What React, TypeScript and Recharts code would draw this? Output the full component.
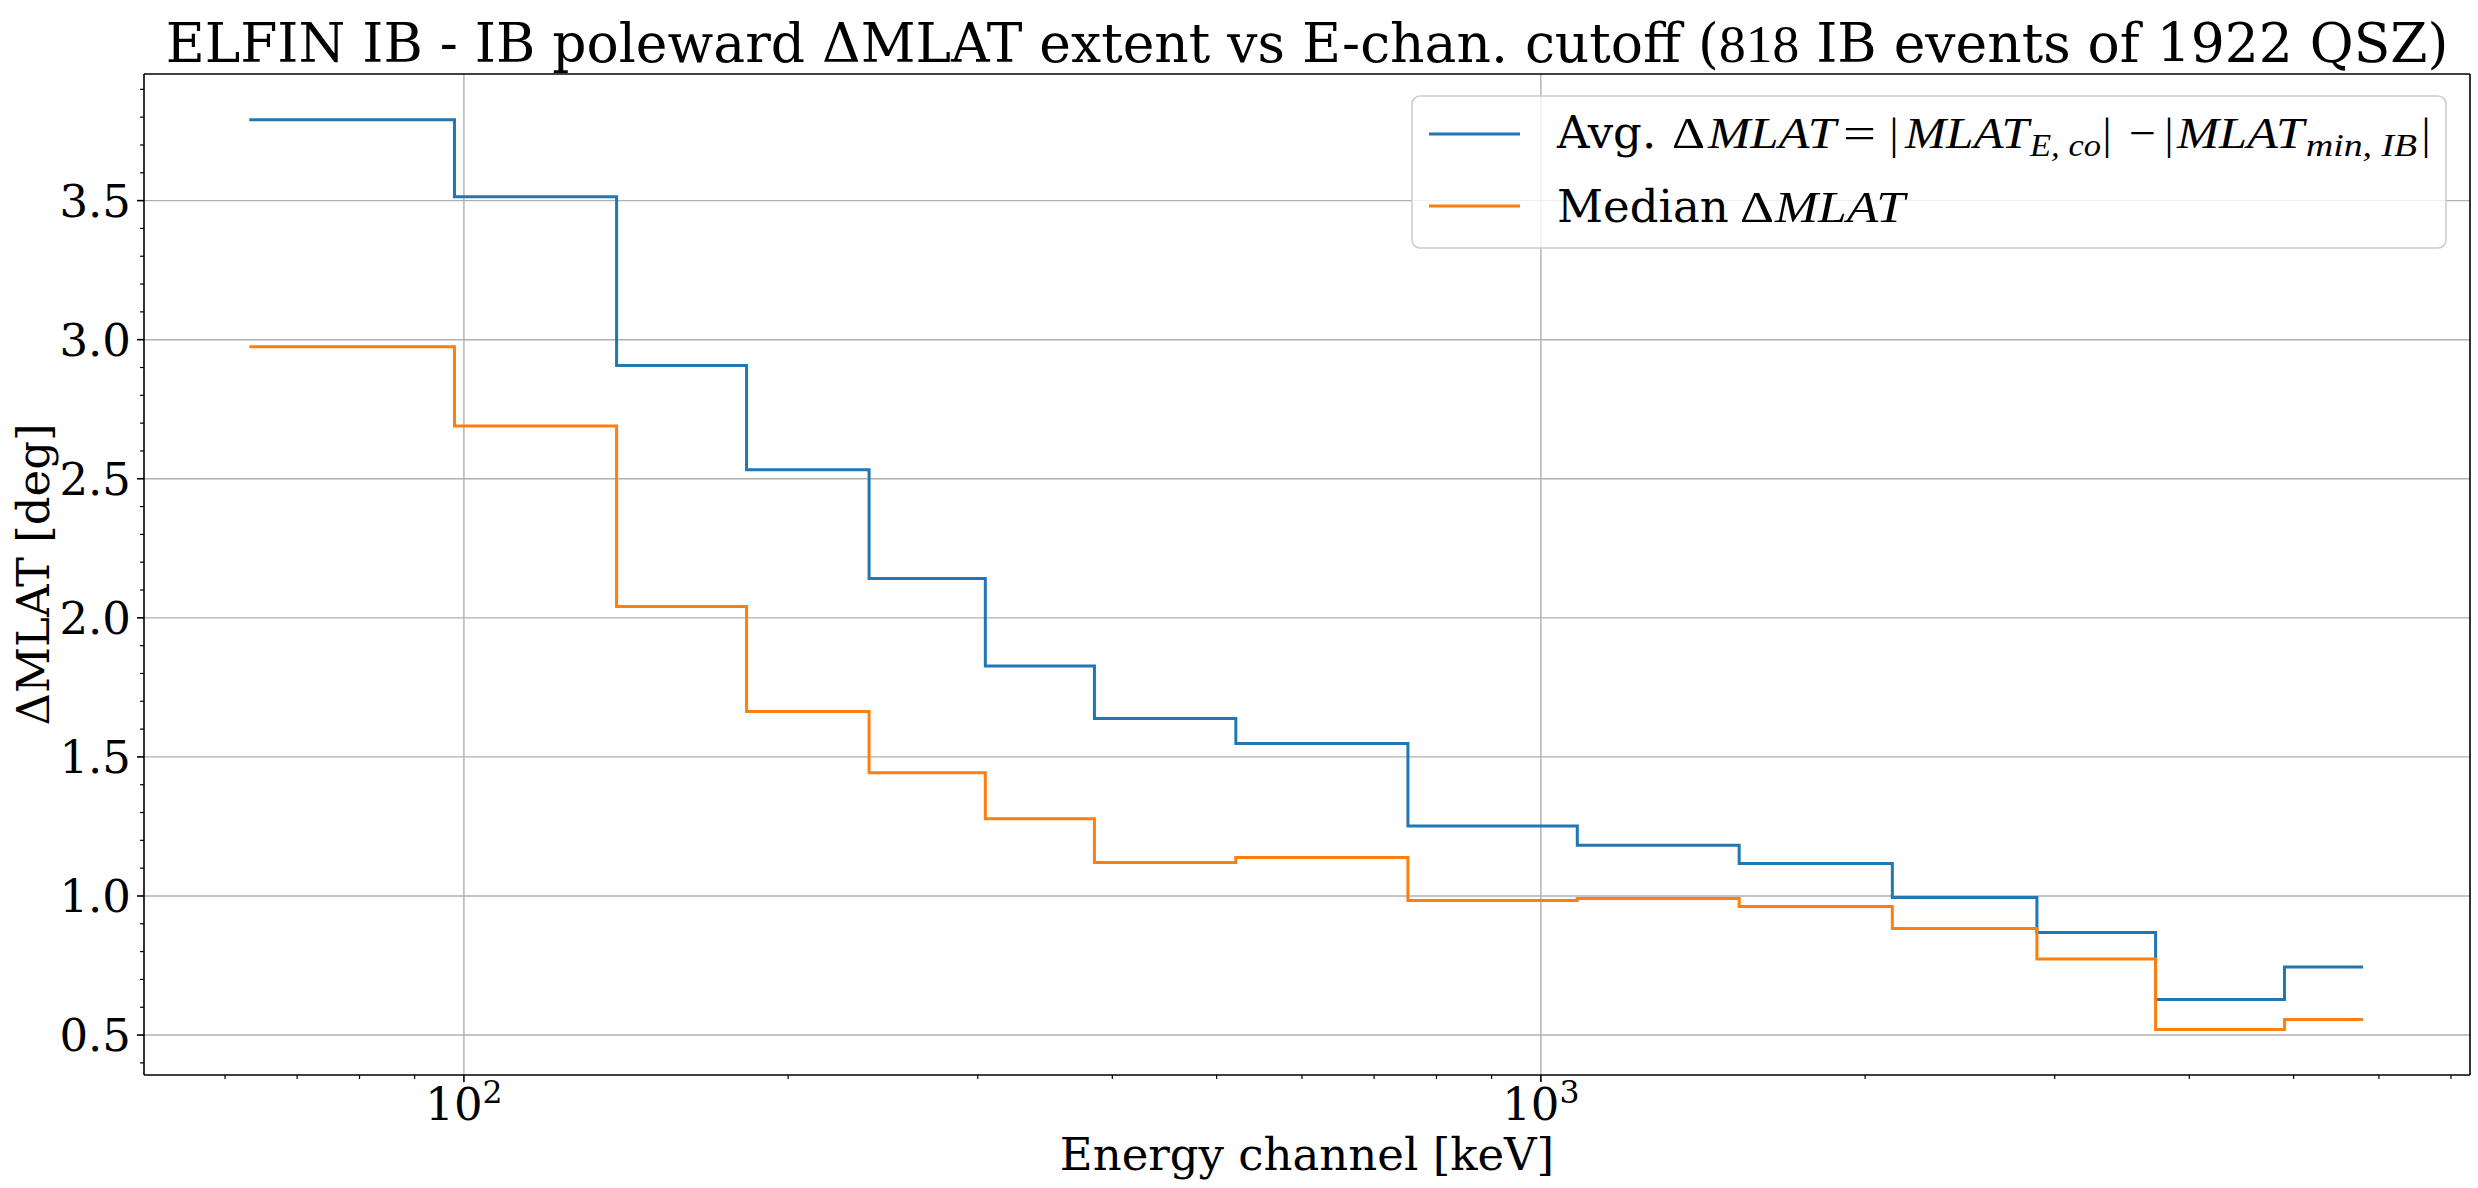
import { LineChart, Line, XAxis, YAxis, ReferenceLine } from "recharts";

// ELFIN energy channel edges [keV] and step levels
const energyEdges = [63.2, 98.0, 138.6, 183.0, 237.8, 304.9, 385.0, 520.9, 752.6, 1081, 1528, 2120, 2888, 3722, 4903, 5800];
const avgDmlat = [3.791, 3.514, 2.907, 2.532, 2.141, 1.827, 1.638, 1.548, 1.252, 1.182, 1.117, 0.995, 0.869, 0.628, 0.745];
const medianDmlat = [2.975, 2.69, 2.041, 1.663, 1.443, 1.278, 1.12, 1.138, 0.984, 0.991, 0.962, 0.883, 0.773, 0.52, 0.556];

const xMajorTicks = [100, 1000];
const xMajorExponents = ["2", "3"];
const xMinorTicks = [60, 70, 80, 90, 200, 300, 400, 500, 600, 700, 800, 900, 2000, 3000, 4000, 5000, 6000, 7000];
const yMajorTicks = [0.5, 1.0, 1.5, 2.0, 2.5, 3.0, 3.5];
const yMinorTicks = [
  0.4, 0.6, 0.7, 0.8, 0.9, 1.1, 1.2, 1.3, 1.4, 1.6, 1.7, 1.8, 1.9, 2.1, 2.2, 2.3, 2.4,
  2.6, 2.7, 2.8, 2.9, 3.1, 3.2, 3.3, 3.4, 3.6, 3.7, 3.8, 3.9,
];

const xDomain = [50.46, 7290];
const yDomain = [0.3564, 3.9552];

const BLUE = "#1f77b4";
const ORANGE = "#ff7f0e";
const GRID = "#b0b0b0";
const SERIF = "DejaVu Serif";
const MATH = "Liberation Serif";
const FS = 45;
const SUB = 31.5;
const LW = 3;

// last value repeated so the final step gets its width
const data = energyEdges.map((e, i) => ({
  e,
  avg: avgDmlat[Math.min(i, avgDmlat.length - 1)],
  med: medianDmlat[Math.min(i, medianDmlat.length - 1)],
}));

const XTick = (props: any) => {
  const { x, y, payload } = props;
  const idx = xMajorTicks.indexOf(payload.value);
  const major = idx >= 0;
  return (
    <g>
      <line x1={x} x2={x} y1={y} y2={y + (major ? 7 : 4)} stroke="#000" strokeWidth={major ? 1.6 : 1.2} />
      {major && (
        <text x={x} y={y + 45} textAnchor="middle" fontSize={FS} fontFamily={SERIF} fill="#000">
          10
          <tspan dy={-17} fontSize={SUB}>
            {xMajorExponents[idx]}
          </tspan>
        </text>
      )}
    </g>
  );
};

const YTick = (props: any) => {
  const { x, y, payload } = props;
  const major = yMajorTicks.includes(payload.value);
  return (
    <g>
      <line x1={x - (major ? 7 : 4)} x2={x} y1={y} y2={y} stroke="#000" strokeWidth={major ? 1.6 : 1.2} />
      {major && (
        <text x={x - 13} y={y + 16.3} textAnchor="end" fontSize={FS} fontFamily={SERIF} fill="#000">
          {payload.value.toFixed(1)}
        </text>
      )}
    </g>
  );
};

// a piece of math-style legend text, stretched to the width it has in the figure
const M = ({ x, y, w, size = FS, italic = false, anchor = "start", children }: any) => (
  <text
    x={x}
    y={y}
    textLength={w}
    lengthAdjust={w ? "spacingAndGlyphs" : undefined}
    textAnchor={anchor}
    fontSize={size}
    fontFamily={MATH}
    fontStyle={italic ? "italic" : "normal"}
    fill="#000"
  >
    {children}
  </text>
);

export default function App() {
  return (
    <div style={{ position: "absolute", left: 0, top: 0, width: 2478, height: 1188, background: "#fff" }}>
      <LineChart width={2478} height={1188} data={data} margin={{ top: 74, right: 8, bottom: 0, left: 0 }}>
        <XAxis
          dataKey="e"
          type="number"
          scale="log"
          domain={xDomain}
          allowDataOverflow
          ticks={[...xMajorTicks, ...xMinorTicks]}
          interval={0}
          tick={XTick}
          tickLine={false}
          tickSize={0}
          tickMargin={0}
          height={113}
          axisLine={{ stroke: "#000", strokeWidth: 1.6 }}
        />
        <YAxis
          type="number"
          domain={yDomain}
          allowDataOverflow
          ticks={[...yMajorTicks, ...yMinorTicks]}
          interval={0}
          tick={YTick}
          tickLine={false}
          tickSize={0}
          tickMargin={0}
          width={144}
          axisLine={{ stroke: "#000", strokeWidth: 1.6 }}
        />
        {yMajorTicks.map((v) => (
          <ReferenceLine key={`gy-${v}`} y={v} stroke={GRID} strokeWidth={1.4} />
        ))}
        {xMajorTicks.map((v) => (
          <ReferenceLine key={`gx-${v}`} x={v} stroke={GRID} strokeWidth={1.4} />
        ))}
        {/* top and right spines */}
        <ReferenceLine y={yDomain[1]} stroke="#000" strokeWidth={1.6} />
        <ReferenceLine x={xDomain[1]} stroke="#000" strokeWidth={1.6} />
        <Line type="stepAfter" dataKey="avg" stroke={BLUE} strokeWidth={LW} dot={false} isAnimationActive={false} />
        <Line type="stepAfter" dataKey="med" stroke={ORANGE} strokeWidth={LW} dot={false} isAnimationActive={false} />
      </LineChart>

      <svg
        width={2478}
        height={1188}
        style={{ position: "absolute", left: 0, top: 0, pointerEvents: "none" }}
      >
        <text x={1307} y={62} textAnchor="middle" fontSize={53.5} fontFamily={SERIF} fill="#000">
          ELFIN IB - IB poleward ΔMLAT extent vs E-chan. cutoff (<tspan fontFamily={MATH}>818</tspan> IB events of
          1922 QSZ)
        </text>
        <text x={1307} y={1170} textAnchor="middle" fontSize={FS} fontFamily={SERIF} fill="#000">
          Energy channel [keV]
        </text>
        <text
          transform="translate(48.5,574.5) rotate(-90)"
          textAnchor="middle"
          fontSize={FS}
          fontFamily={SERIF}
          fill="#000"
        >
          ΔMLAT [deg]
        </text>

        <rect x={1412} y={96} width={1034} height={152} rx={8} fill="#fff" fillOpacity={0.8} stroke="#cccccc" strokeWidth={1.6} />
        <line x1={1429} x2={1520} y1={134} y2={134} stroke={BLUE} strokeWidth={LW} />
        <line x1={1429} x2={1520} y1={206} y2={206} stroke={ORANGE} strokeWidth={LW} />

        <text x={1557} y={148} fontSize={FS} fontFamily={SERIF} fill="#000">Avg.</text>
        <M x={1672} y={148} w={33}>Δ</M>
        <M x={1708} y={148} w={128} italic>MLAT</M>
        <M x={1843} y={148} w={33}>=</M>
        <M x={1894} y={149} anchor="middle">|</M>
        <M x={1905} y={148} w={124} italic>MLAT</M>
        <M x={2030} y={156} w={71} size={SUB} italic>E, co</M>
        <M x={2107} y={149} anchor="middle">|</M>
        <M x={2129} y={148} w={27}>−</M>
        <M x={2169} y={149} anchor="middle">|</M>
        <M x={2177} y={148} w={127} italic>MLAT</M>
        <M x={2306} y={156} w={111} size={SUB} italic>min, IB</M>
        <M x={2426} y={149} anchor="middle">|</M>

        <text x={1557} y={222} fontSize={FS} fontFamily={SERIF} fill="#000">Median</text>
        <M x={1740} y={222} w={34}>Δ</M>
        <M x={1775} y={222} w={130} italic>MLAT</M>
      </svg>
    </div>
  );
}
